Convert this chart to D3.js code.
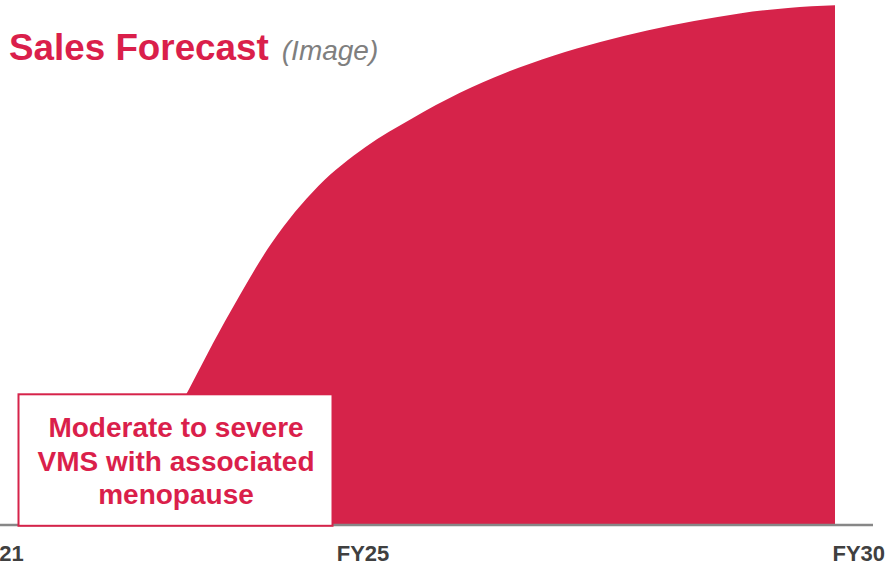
<!DOCTYPE html>
<html>
<head>
<meta charset="utf-8">
<script src="https://cdn.jsdelivr.net/npm/d3@7"></script>
<style>
  html, body { margin: 0; padding: 0; background: #ffffff; overflow: hidden; }
  svg { display: block; }
</style>
</head>
<body>
<svg id="chart" width="886" height="563"></svg>
<script>
// ---- data ----
const years = [2022.0, 2022.5, 2023.0, 2023.5, 2024.0, 2024.5, 2025.0, 2025.5, 2026.0,
               2026.5, 2027.0, 2027.5, 2028.0, 2028.5, 2029.0, 2029.5, 2030.0];
const sales = [0, 6.7, 21.9, 38.7, 53.7, 64.6, 72.0, 77.5, 82.3,
               86.2, 89.4, 92.0, 94.2, 96.0, 97.5, 98.5, 99.0];
const tickYears = [2021, 2025, 2030];
const tickLabels = ["FY21", "FY25", "FY30"];
const boxLines = ["Moderate to severe", "VMS with associated", "menopause"];
const titleMain = "Sales Forecast";
const titleSub = "(Image)";

// ---- drawing ----
const crimson = "#D6234A";
const textRed = "#DA1F4B";
const svg = d3.select("#chart");
const font = "'Liberation Sans', Arial, Helvetica, sans-serif";

const x = d3.scaleLinear().domain([2021, 2030]).range([-10, 835]);
const y = d3.scaleLinear().domain([0, 100]).range([525, 0]);

const data = years.map((yr, i) => ({ yr, v: sales[i] }));

const area = d3.area()
  .x(d => x(d.yr))
  .y0(y(0))
  .y1(d => y(d.v))
  .curve(d3.curveMonotoneX);

svg.append("path")
  .datum(data)
  .attr("d", area)
  .attr("fill", crimson);

// baseline
svg.append("line")
  .attr("x1", 0).attr("x2", 873)
  .attr("y1", y(0)).attr("y2", y(0))
  .attr("stroke", "#878787")
  .attr("stroke-width", 2.5);

// x axis labels
const axis = d3.axisBottom(x)
  .tickValues(tickYears)
  .tickSize(0)
  .tickPadding(0)
  .tickFormat((d, i) => tickLabels[i]);

const gAxis = svg.append("g")
  .attr("transform", `translate(0, ${y(0)})`)
  .call(axis);
gAxis.select(".domain").remove();
gAxis.selectAll("text")
  .attr("dy", null)
  .attr("y", 36)
  .attr("fill", "#404040")
  .style("font-family", font)
  .style("font-size", "22px")
  .style("font-weight", "bold")
  .attr("text-anchor", (d, i) => i === tickYears.length - 1 ? "start" : "middle")
  .attr("x", (d, i) => i === 0 ? 7 : -3);

// annotation box
svg.append("rect")
  .attr("x", 18.5).attr("y", 394.3)
  .attr("width", 314).attr("height", 131.5)
  .attr("fill", "#ffffff")
  .attr("stroke", crimson)
  .attr("stroke-width", 2);

svg.append("g")
  .selectAll("text")
  .data(boxLines)
  .join("text")
  .attr("x", 176)
  .attr("y", (d, i) => 437 + i * 33.5)
  .attr("text-anchor", "middle")
  .attr("fill", textRed)
  .style("font-family", font)
  .style("font-size", "28px")
  .style("font-weight", "bold")
  .text(d => d);

// title
const title = svg.append("text")
  .attr("x", 9)
  .attr("y", 60)
  .style("font-family", font);
title.append("tspan")
  .attr("fill", textRed)
  .style("font-size", "36.8px")
  .style("font-weight", "bold")
  .text(titleMain);
title.append("tspan")
  .attr("dx", 13)
  .attr("fill", "#7f7f7f")
  .style("font-size", "28px")
  .style("font-style", "italic")
  .text(titleSub);
</script>
</body>
</html>
